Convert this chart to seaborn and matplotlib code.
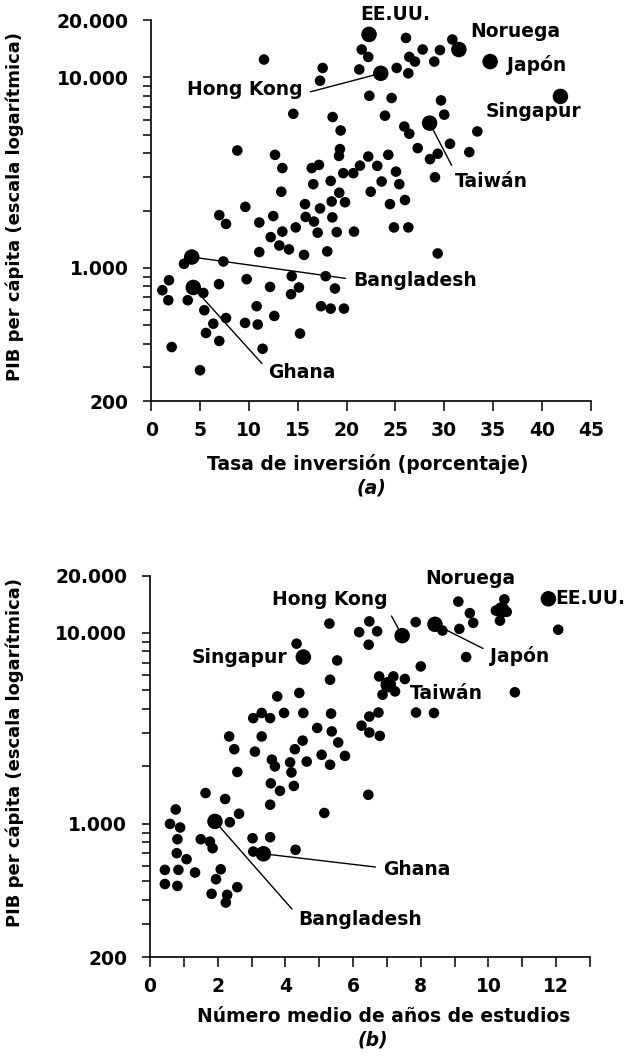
import matplotlib
matplotlib.use("Agg")
import matplotlib.pyplot as plt
import seaborn as sns
import pandas as pd
from matplotlib.ticker import NullFormatter

# ---------------- datos: (a) tasa de inversión ----------------
inv_x = [11.54, 17.55, 17.28, 14.54, 21.55, 22.22, 21.3, 26.08, 25.13, 26.32,
         26.42, 27.0, 27.79, 28.98, 29.56, 30.83, 22.33, 24.61, 23.93, 29.67,
         30.0, 25.91, 26.42, 27.28, 28.54, 29.33, 30.59, 32.57, 33.39, 29.05,
         18.57, 19.39, 19.32, 19.22, 22.22, 24.27, 21.37, 20.69, 19.66, 23.14,
         25.06, 16.43, 17.17, 16.59, 18.37, 19.25, 23.59, 25.4, 22.47, 24.44,
         25.98, 18.47, 19.84, 15.74, 17.28, 8.81, 12.67, 13.42, 13.31, 9.63,
         6.96, 12.49, 7.65, 11.06, 15.81, 16.66, 18.54, 14.79, 13.42, 17.04,
         18.99, 20.76, 24.85, 26.32, 12.23, 13.11, 14.1, 11.06, 15.64, 18.02,
         29.33, 3.35, 7.38, 1.81, 1.13, 1.74, 2.09, 3.73, 5.33, 6.93,
         5.43, 6.35, 7.65, 5.6, 6.96, 4.99, 9.77, 10.79, 9.6, 10.9,
         12.6, 11.4, 12.16, 14.38, 15.12, 14.31, 15.23, 17.86, 18.81, 17.38,
         18.37, 19.73]
inv_pib = [12400, 11200, 9600, 6440, 14000, 12800, 11000, 16100, 11200, 10500,
           12800, 12100, 14000, 12100, 13900, 15800, 8000, 7790, 6290, 7570,
           6370, 5520, 5060, 4250, 3720, 3970, 4480, 4050, 5200, 2990,
           6190, 5260, 4200, 3870, 3840, 3920, 3440, 3140, 3140, 3430,
           3200, 3340, 3470, 2750, 2860, 2480, 2840, 2750, 2510, 2160,
           2270, 2230, 2210, 2160, 2050, 4130, 3920, 3340, 2510, 2090,
           1890, 1870, 1700, 1730, 1850, 1750, 1840, 1630, 1550, 1530,
           1540, 1550, 1630, 1630, 1450, 1310, 1250, 1210, 1170, 1220,
           1190, 1050, 1080, 861, 763, 676, 384, 676, 738, 821,
           599, 509, 545, 455, 413, 290, 872, 629, 514, 504,
           559, 376, 794, 904, 789, 727, 452, 904, 779, 629,
           611, 611]

paises = ["EE.UU.", "Noruega", "Japón", "Hong Kong", "Singapur", "Taiwán",
          "Bangladesh", "Ghana"]
inv_pais_x = [22.3, 31.5, 34.7, 23.5, 41.9, 28.5, 4.14, 4.3]
inv_pais_pib = [16800, 14000, 12100, 10500, 7940, 5750, 1140, 789]

# ---------------- datos: (b) años de estudios ----------------
edu_x = [9.11, 9.45, 9.55, 9.14, 10.47, 10.22, 10.34, 10.54, 12.06, 9.34,
         8.0, 10.78, 7.85, 8.64, 5.3, 6.48, 6.18, 6.71, 6.46, 4.33,
         5.53, 5.32, 7.53, 6.77, 7.19, 6.87, 7.24, 7.86, 8.39, 6.75,
         6.48, 6.25, 6.48, 6.79, 3.76, 4.41, 3.05, 3.3, 3.55, 3.96,
         4.53, 5.35, 4.94, 5.37, 5.56, 2.34, 3.3, 2.49, 3.1, 4.51,
         4.28, 3.6, 4.14, 4.63, 5.07, 5.32, 5.76, 3.69, 4.18, 2.58,
         3.57, 3.84, 4.25, 3.55, 5.15, 6.45, 1.64, 2.22, 0.76, 2.63,
         0.59, 0.89, 2.36, 0.81, 1.5, 1.77, 1.85, 0.79, 1.08, 0.44,
         0.84, 1.33, 2.09, 1.95, 0.44, 0.81, 1.82, 2.28, 2.58, 2.24,
         3.03, 3.55, 3.05, 4.3]
edu_pib = [14600, 12700, 11300, 10500, 15000, 13100, 11600, 12900, 10400, 7480,
           6680, 4890, 11400, 10300, 11200, 11500, 10100, 10200, 8680, 8790,
           7180, 5690, 5740, 5920, 5920, 4750, 4940, 3830, 3810, 3830,
           3650, 3270, 3010, 2890, 4650, 4850, 3580, 3810, 3580, 3810,
           3810, 3780, 3180, 3050, 2670, 2870, 2870, 2460, 2390, 2730,
           2460, 2170, 2100, 2120, 2300, 2040, 2270, 2000, 1860, 1870,
           1630, 1490, 1580, 1260, 1140, 1420, 1450, 1350, 1190, 1130,
           1000, 957, 1020, 831, 831, 807, 746, 702, 653, 574,
           574, 556, 578, 513, 484, 473, 430, 425, 466, 387,
           841, 851, 716, 731]

edu_pais_x = [11.77, 10.39, 8.42, 7.45, 4.53, 7.04, 1.92, 3.35]
edu_pais_pib = [15100, 13200, 11100, 9680, 7480, 5360, 1030, 697]

# ---------------- ejes ----------------
y_ticks = [200, 1000, 10000, 20000]
y_tick_labels = ["200", "1.000", "10.000", "20.000"]
y_minor = [300, 400, 500, 600, 700, 800, 900,
           2000, 3000, 4000, 5000, 6000, 7000, 8000, 9000]
inv_ticks = list(range(0, 46, 5))
edu_ticks = list(range(0, 14))
edu_tick_labels = [str(t) if (t % 2 == 0 and t <= 12) else "" for t in edu_ticks]

# Posición de las etiquetas de país: (dx, dy en puntos, alineación, línea, relpos)
inv_etiquetas = {
    "EE.UU.":     (18.7, 14.4, "center", False, None),
    "Noruega":    (7.9, 13.0, "left", False, None),
    "Japón":      (12.2, -2.4, "left", False, None),
    "Hong Kong":  (-56.0, -12.0, "right", True, (1.0, 0.3)),
    "Singapur":   (-19.2, -11.0, "center", False, None),
    "Taiwán":     (18.5, -42.2, "left", True, (0.0, 1.0)),
    "Bangladesh": (116.0, -16.8, "left", True, (0.0, 0.55)),
    "Ghana":      (53.8, -61.0, "left", True, (0.0, 0.6)),
}
edu_etiquetas = {
    "EE.UU.":     (5.0, 0.0, "left", False, None),
    "Noruega":    (-22.8, 23.0, "center", False, None),
    "Hong Kong":  (-52.0, 26.0, "center", True, (1.0, 0.0)),
    "Japón":      (39.6, -22.8, "left", True, (0.0, 0.7)),
    "Singapur":   (-11.7, 0.0, "right", False, None),
    "Taiwán":     (15.6, -6.5, "left", False, None),
    "Ghana":      (86.0, -11.5, "left", True, (0.0, 0.6)),
    "Bangladesh": (59.8, -70.8, "left", True, (0.0, 0.7)),
}

sns.set_theme(style="ticks")
plt.rcParams["font.family"] = ["DejaVu Sans"]
plt.rcParams["font.weight"] = "bold"
plt.rcParams["text.color"] = "black"
plt.rcParams["axes.labelcolor"] = "black"
plt.rcParams["xtick.color"] = "black"
plt.rcParams["ytick.color"] = "black"
plt.rcParams["xtick.labelcolor"] = "black"
plt.rcParams["ytick.labelcolor"] = "black"

FS = 13.5
W, H = 628, 1059
fig = plt.figure(figsize=(W / 100, H / 100), dpi=100)
fig.patch.set_facecolor("white")

ax1 = fig.add_axes([151.3 / W, 1 - 401 / H, (590.7 - 151.3) / W, (401 - 20) / H])
ax2 = fig.add_axes([150 / W, 1 - 957.3 / H, 440 / W, (957.3 - 575.5) / H])


def panel(ax, xs, ys, px, py, etiquetas, xlim, xticks, xticklabels):
    sns.scatterplot(x=xs, y=ys, ax=ax, color="black", s=58, linewidth=0,
                    edgecolor="none", legend=False, zorder=3)
    sns.scatterplot(x=px, y=py, ax=ax, color="black", s=125, linewidth=0,
                    edgecolor="none", legend=False, zorder=4)
    ax.set_yscale("log")
    ax.set_xlim(*xlim)
    ax.set_ylim(200, 20000)
    ax.set_yticks(y_ticks, y_tick_labels)
    ax.set_yticks(y_minor, minor=True)
    ax.yaxis.set_minor_formatter(NullFormatter())
    ax.set_xticks(xticks, xticklabels)
    ax.set_xlabel("")
    ax.set_ylabel("")
    sns.despine(ax=ax)
    for s in ("left", "bottom"):
        ax.spines[s].set_linewidth(1.2)
        ax.spines[s].set_color("black")
    ax.tick_params(axis="y", which="both", direction="out", length=6,
                   width=1.1, color="black", labelcolor="black", pad=10.5,
                   labelsize=FS)
    ax.tick_params(axis="x", which="major", direction="out", length=7.5,
                   width=1.1, color="black", labelcolor="black", pad=7,
                   labelsize=FS)
    for lab in ax.get_xticklabels() + ax.get_yticklabels():
        lab.set_fontweight("bold")
    for nombre, x, y in zip(paises, px, py):
        dx, dy, ha, linea, rp = etiquetas[nombre]
        kw = {}
        if linea:
            kw["arrowprops"] = dict(arrowstyle="-", color="black", lw=1.0,
                                    shrinkA=3, shrinkB=0, relpos=rp)
        ax.annotate(nombre, xy=(x, y), xytext=(dx, dy),
                    textcoords="offset points", ha=ha, va="center",
                    fontsize=FS, fontweight="bold", color="black",
                    annotation_clip=False, **kw)


panel(ax1, inv_x, inv_pib, inv_pais_x, inv_pais_pib, inv_etiquetas,
      (0, 45), inv_ticks, [str(t) for t in inv_ticks])
panel(ax2, edu_x, edu_pib, edu_pais_x, edu_pais_pib, edu_etiquetas,
      (0, 13), edu_ticks, edu_tick_labels)

ylab = "PIB per cápita (escala logarítmica)"
fig.text(15 / W, 1 - 206.5 / H, ylab, rotation=90, ha="center", va="center",
         fontsize=13, fontweight="bold", color="black")
fig.text(15 / W, 1 - 752.5 / H, ylab, rotation=90, ha="center", va="center",
         fontsize=13, fontweight="bold", color="black")

fig.text(367.5 / W, 1 - 464 / H, "Tasa de inversión (porcentaje)",
         ha="center", va="center", fontsize=FS, fontweight="bold", color="black")
fig.text(371.7 / W, 1 - 488 / H, "(a)", ha="center", va="center",
         fontsize=FS, fontweight="bold", style="italic", color="black")
fig.text(383.3 / W, 1 - 1017 / H, "Número medio de años de estudios",
         ha="center", va="center", fontsize=FS, fontweight="bold", color="black")
fig.text(373 / W, 1 - 1040 / H, "(b)", ha="center", va="center",
         fontsize=FS, fontweight="bold", style="italic", color="black")

fig.savefig("out.png", dpi=100, facecolor="white")
